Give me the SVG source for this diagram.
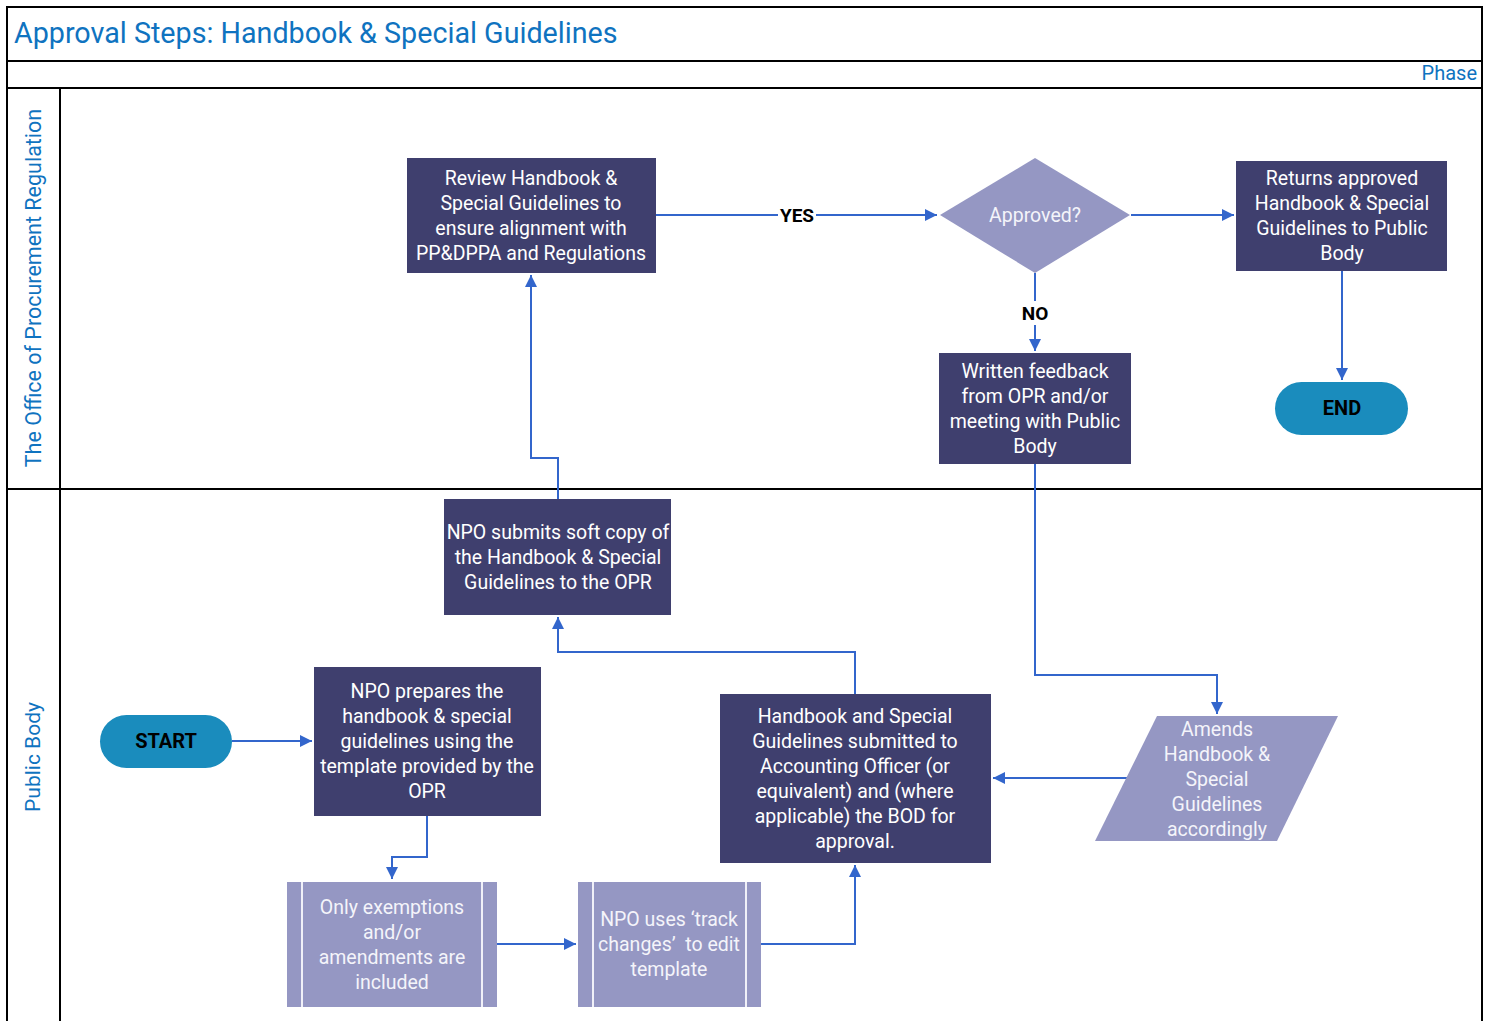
<svg xmlns="http://www.w3.org/2000/svg" width="1494" height="1021" viewBox="0 0 1494 1021">
<style>
.frame{fill:none;stroke:#000;stroke-width:2}
.dark{fill:#3f3f6e}
.light{fill:#9597c3}
.pill{fill:#1a8cbd}
.sep{stroke:#f0f0f8;stroke-width:2}
.t{font-family:Roboto,"Liberation Sans",sans-serif;font-size:19.5px;fill:#fff;text-anchor:middle;dominant-baseline:central}
.tl{fill:#f4f4fa}
.tb{font-family:Roboto,"Liberation Sans",sans-serif;font-size:20px;font-weight:bold;fill:#000;text-anchor:middle;dominant-baseline:central}
.lbl{font-family:Roboto,"Liberation Sans",sans-serif;font-size:19px;font-weight:bold;fill:#000;text-anchor:middle;dominant-baseline:central}
.blue{font-family:Roboto,"Liberation Sans",sans-serif;fill:#0f73c0}
.c{fill:none;stroke:#3366cc;stroke-width:2;marker-end:url(#ah)}
</style>
<defs>
<marker id="ah" viewBox="0 0 10 10" refX="10" refY="5" markerWidth="6" markerHeight="6" markerUnits="strokeWidth" orient="auto">
<path d="M0,0 L10,5 L0,10 z" fill="#3366cc"/>
</marker>
</defs>
<rect width="1494" height="1021" fill="#fff"/>
<g id="frame">
<rect class="frame" x="7" y="7" width="1475" height="1020"/>
<line class="frame" x1="7" y1="61" x2="1482" y2="61"/>
<line class="frame" x1="7" y1="88" x2="1482" y2="88"/>
<line class="frame" x1="7" y1="489" x2="1482" y2="489"/>
<line class="frame" x1="60" y1="88" x2="60" y2="1021"/>
<text class="blue" x="14" y="43" font-size="28.7">Approval Steps: Handbook &amp; Special Guidelines</text>
<text class="blue" x="1477" y="80" font-size="20" text-anchor="end">Phase</text>
<text class="blue" x="33" y="288" font-size="21.5" text-anchor="middle" dominant-baseline="central" transform="rotate(-90 33 288)">The Office of Procurement Regulation</text>
<text class="blue" x="33" y="757" font-size="21" text-anchor="middle" dominant-baseline="central" transform="rotate(-90 33 757)">Public Body</text>
</g>
<g id="connectors">
<path class="c" d="M656,215 H937"/>
<rect x="778" y="204" width="38" height="22" fill="#fff"/>
<text class="lbl" x="797" y="215">YES</text>
<path class="c" d="M1131,215 H1234"/>
<path class="c" d="M1035,273 V351"/>
<rect x="1016" y="301" width="38" height="24" fill="#fff"/>
<text class="lbl" x="1035" y="313">NO</text>
<path class="c" d="M1342,271 V380"/>
<path class="c" d="M1035,464 V675 H1217 V714"/>
<path class="c" d="M1127,778 H993"/>
<path class="c" d="M855,694 V652 H558 V617"/>
<path class="c" d="M558,499 V458 H531 V275"/>
<path class="c" d="M232,741 H312"/>
<path class="c" d="M427,816 V857 H392 V879"/>
<path class="c" d="M497,944 H576"/>
<path class="c" d="M761,944 H855 V865"/>
</g>
<g id="review">
<rect class="dark" x="407" y="158" width="249" height="115"/>
<text class="t" x="531" y="178">Review Handbook &amp;</text>
<text class="t" x="531" y="203">Special Guidelines to</text>
<text class="t" x="531" y="228">ensure alignment with</text>
<text class="t" x="531" y="253">PP&amp;DPPA and Regulations</text>
</g>
<g id="approved">
<polygon class="light" points="1035,158 1130,215 1035,273 940,215"/>
<text class="t tl" x="1035" y="215">Approved?</text>
</g>
<g id="returns">
<rect class="dark" x="1236" y="161" width="211" height="110"/>
<text class="t" x="1342" y="178">Returns approved</text>
<text class="t" x="1342" y="203">Handbook &amp; Special</text>
<text class="t" x="1342" y="228">Guidelines to Public</text>
<text class="t" x="1342" y="253">Body</text>
</g>
<g id="feedback">
<rect class="dark" x="939" y="353" width="192" height="111"/>
<text class="t" x="1035" y="371">Written feedback</text>
<text class="t" x="1035" y="396">from OPR and/or</text>
<text class="t" x="1035" y="421">meeting with Public</text>
<text class="t" x="1035" y="446">Body</text>
</g>
<g id="end">
<rect class="pill" x="1275" y="382" width="133" height="53" rx="26.5"/>
<text class="tb" x="1342" y="408">END</text>
</g>
<g id="submits">
<rect class="dark" x="444" y="499" width="227" height="116"/>
<text class="t" x="558" y="532">NPO submits soft copy of</text>
<text class="t" x="558" y="557">the Handbook &amp; Special</text>
<text class="t" x="558" y="582">Guidelines to the OPR</text>
</g>
<g id="start">
<rect class="pill" x="100" y="715" width="132" height="53" rx="26.5"/>
<text class="tb" x="166" y="741">START</text>
</g>
<g id="prepares">
<rect class="dark" x="314" y="667" width="227" height="149"/>
<text class="t" x="427" y="691">NPO prepares the</text>
<text class="t" x="427" y="716">handbook &amp; special</text>
<text class="t" x="427" y="741">guidelines using the</text>
<text class="t" x="427" y="766">template provided by the</text>
<text class="t" x="427" y="791">OPR</text>
</g>
<g id="submitted">
<rect class="dark" x="720" y="694" width="271" height="169"/>
<text class="t" x="855" y="716">Handbook and Special</text>
<text class="t" x="855" y="741">Guidelines submitted to</text>
<text class="t" x="855" y="766">Accounting Officer (or</text>
<text class="t" x="855" y="791">equivalent) and (where</text>
<text class="t" x="855" y="816">applicable) the BOD for</text>
<text class="t" x="855" y="841">approval.</text>
</g>
<g id="amends">
<polygon class="light" points="1157,716 1338,716 1277,841 1095,841"/>
<text class="t tl" x="1217" y="729">Amends</text>
<text class="t tl" x="1217" y="754">Handbook &amp;</text>
<text class="t tl" x="1217" y="779">Special</text>
<text class="t tl" x="1217" y="804">Guidelines</text>
<text class="t tl" x="1217" y="829">accordingly</text>
</g>
<g id="exemptions">
<rect class="light" x="287" y="882" width="210" height="125"/>
<line class="sep" x1="302" y1="882" x2="302" y2="1007"/>
<line class="sep" x1="482" y1="882" x2="482" y2="1007"/>
<text class="t tl" x="392" y="907">Only exemptions</text>
<text class="t tl" x="392" y="932">and/or</text>
<text class="t tl" x="392" y="957">amendments are</text>
<text class="t tl" x="392" y="982">included</text>
</g>
<g id="trackchanges">
<rect class="light" x="578" y="882" width="183" height="125"/>
<line class="sep" x1="593" y1="882" x2="593" y2="1007"/>
<line class="sep" x1="746" y1="882" x2="746" y2="1007"/>
<text class="t tl" x="669" y="919">NPO uses ‘track</text>
<text class="t tl" x="669" y="944" style="white-space:pre">changes’  to edit</text>
<text class="t tl" x="669" y="969">template</text>
</g>
</svg>
